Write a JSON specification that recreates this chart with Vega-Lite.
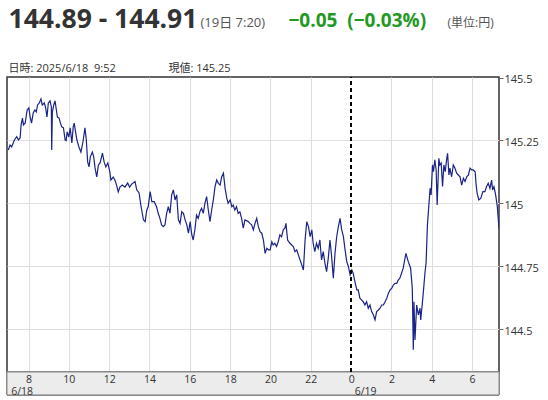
{
  "$schema": "https://vega.github.io/schema/vega-lite/v6.json",
  "width": 492,
  "height": 295,
  "autosize": "none",
  "padding": {"left": 7, "top": 77, "right": 49, "bottom": 28},
  "background": "white",
  "config": {
    "font": "Open Sans, Noto Sans CJK JP",
    "view": {"stroke": "#333333", "strokeWidth": 1.5}
  },
  "datasets": {
    "usdjpy": [
      {"t": "2025-06-18T07:00", "v": 145.212},
      {"t": "2025-06-18T07:05", "v": 145.232},
      {"t": "2025-06-18T07:10", "v": 145.225},
      {"t": "2025-06-18T07:18", "v": 145.252},
      {"t": "2025-06-18T07:25", "v": 145.265},
      {"t": "2025-06-18T07:30", "v": 145.252},
      {"t": "2025-06-18T07:35", "v": 145.260},
      {"t": "2025-06-18T07:38", "v": 145.312},
      {"t": "2025-06-18T07:42", "v": 145.339},
      {"t": "2025-06-18T07:45", "v": 145.312},
      {"t": "2025-06-18T07:50", "v": 145.319},
      {"t": "2025-06-18T07:56", "v": 145.371},
      {"t": "2025-06-18T08:01", "v": 145.379},
      {"t": "2025-06-18T08:05", "v": 145.343},
      {"t": "2025-06-18T08:09", "v": 145.319},
      {"t": "2025-06-18T08:14", "v": 145.359},
      {"t": "2025-06-18T08:19", "v": 145.371},
      {"t": "2025-06-18T08:23", "v": 145.363},
      {"t": "2025-06-18T08:27", "v": 145.391},
      {"t": "2025-06-18T08:32", "v": 145.399},
      {"t": "2025-06-18T08:37", "v": 145.415},
      {"t": "2025-06-18T08:41", "v": 145.391},
      {"t": "2025-06-18T08:47", "v": 145.399},
      {"t": "2025-06-18T08:51", "v": 145.379},
      {"t": "2025-06-18T08:55", "v": 145.343},
      {"t": "2025-06-18T08:59", "v": 145.399},
      {"t": "2025-06-18T09:04", "v": 145.407},
      {"t": "2025-06-18T09:08", "v": 145.383},
      {"t": "2025-06-18T09:09", "v": 145.212},
      {"t": "2025-06-18T09:11", "v": 145.363},
      {"t": "2025-06-18T09:15", "v": 145.391},
      {"t": "2025-06-18T09:19", "v": 145.407},
      {"t": "2025-06-18T09:22", "v": 145.379},
      {"t": "2025-06-18T09:26", "v": 145.343},
      {"t": "2025-06-18T09:31", "v": 145.339},
      {"t": "2025-06-18T09:35", "v": 145.319},
      {"t": "2025-06-18T09:39", "v": 145.304},
      {"t": "2025-06-18T09:44", "v": 145.300},
      {"t": "2025-06-18T09:49", "v": 145.252},
      {"t": "2025-06-18T09:52", "v": 145.250},
      {"t": "2025-06-18T09:55", "v": 145.284},
      {"t": "2025-06-18T10:00", "v": 145.264},
      {"t": "2025-06-18T10:04", "v": 145.300},
      {"t": "2025-06-18T10:09", "v": 145.240},
      {"t": "2025-06-18T10:13", "v": 145.304},
      {"t": "2025-06-18T10:16", "v": 145.319},
      {"t": "2025-06-18T10:20", "v": 145.284},
      {"t": "2025-06-18T10:24", "v": 145.252},
      {"t": "2025-06-18T10:30", "v": 145.224},
      {"t": "2025-06-18T10:36", "v": 145.204},
      {"t": "2025-06-18T10:42", "v": 145.244},
      {"t": "2025-06-18T10:48", "v": 145.300},
      {"t": "2025-06-18T10:52", "v": 145.252},
      {"t": "2025-06-18T10:56", "v": 145.165},
      {"t": "2025-06-18T11:00", "v": 145.145},
      {"t": "2025-06-18T11:04", "v": 145.185},
      {"t": "2025-06-18T11:10", "v": 145.204},
      {"t": "2025-06-18T11:14", "v": 145.185},
      {"t": "2025-06-18T11:18", "v": 145.141},
      {"t": "2025-06-18T11:23", "v": 145.105},
      {"t": "2025-06-18T11:28", "v": 145.153},
      {"t": "2025-06-18T11:33", "v": 145.161},
      {"t": "2025-06-18T11:40", "v": 145.200},
      {"t": "2025-06-18T11:45", "v": 145.165},
      {"t": "2025-06-18T11:50", "v": 145.145},
      {"t": "2025-06-18T11:56", "v": 145.161},
      {"t": "2025-06-18T12:02", "v": 145.125},
      {"t": "2025-06-18T12:05", "v": 145.093},
      {"t": "2025-06-18T12:12", "v": 145.105},
      {"t": "2025-06-18T12:17", "v": 145.093},
      {"t": "2025-06-18T12:22", "v": 145.073},
      {"t": "2025-06-18T12:27", "v": 145.046},
      {"t": "2025-06-18T12:32", "v": 145.065},
      {"t": "2025-06-18T12:39", "v": 145.073},
      {"t": "2025-06-18T12:47", "v": 145.065},
      {"t": "2025-06-18T12:55", "v": 145.081},
      {"t": "2025-06-18T13:01", "v": 145.065},
      {"t": "2025-06-18T13:07", "v": 145.077},
      {"t": "2025-06-18T13:17", "v": 145.087},
      {"t": "2025-06-18T13:22", "v": 145.054},
      {"t": "2025-06-18T13:29", "v": 145.042},
      {"t": "2025-06-18T13:35", "v": 144.987},
      {"t": "2025-06-18T13:42", "v": 144.935},
      {"t": "2025-06-18T13:47", "v": 144.928},
      {"t": "2025-06-18T13:52", "v": 144.974},
      {"t": "2025-06-18T13:56", "v": 144.987},
      {"t": "2025-06-18T14:02", "v": 145.047},
      {"t": "2025-06-18T14:07", "v": 145.007},
      {"t": "2025-06-18T14:14", "v": 145.007},
      {"t": "2025-06-18T14:21", "v": 144.987},
      {"t": "2025-06-18T14:26", "v": 144.961},
      {"t": "2025-06-18T14:31", "v": 144.941},
      {"t": "2025-06-18T14:36", "v": 144.915},
      {"t": "2025-06-18T14:41", "v": 144.908},
      {"t": "2025-06-18T14:46", "v": 144.915},
      {"t": "2025-06-18T14:51", "v": 144.961},
      {"t": "2025-06-18T14:56", "v": 144.987},
      {"t": "2025-06-18T15:01", "v": 144.961},
      {"t": "2025-06-18T15:06", "v": 145.034},
      {"t": "2025-06-18T15:11", "v": 145.054},
      {"t": "2025-06-18T15:16", "v": 145.014},
      {"t": "2025-06-18T15:21", "v": 145.034},
      {"t": "2025-06-18T15:26", "v": 144.935},
      {"t": "2025-06-18T15:31", "v": 144.921},
      {"t": "2025-06-18T15:36", "v": 144.967},
      {"t": "2025-06-18T15:41", "v": 144.961},
      {"t": "2025-06-18T15:46", "v": 144.935},
      {"t": "2025-06-18T15:51", "v": 144.915},
      {"t": "2025-06-18T15:56", "v": 144.882},
      {"t": "2025-06-18T16:01", "v": 144.928},
      {"t": "2025-06-18T16:06", "v": 144.875},
      {"t": "2025-06-18T16:10", "v": 144.855},
      {"t": "2025-06-18T16:15", "v": 144.895},
      {"t": "2025-06-18T16:20", "v": 144.954},
      {"t": "2025-06-18T16:25", "v": 144.941},
      {"t": "2025-06-18T16:30", "v": 144.967},
      {"t": "2025-06-18T16:35", "v": 144.981},
      {"t": "2025-06-18T16:40", "v": 144.961},
      {"t": "2025-06-18T16:45", "v": 145.001},
      {"t": "2025-06-18T16:50", "v": 145.027},
      {"t": "2025-06-18T16:55", "v": 144.974},
      {"t": "2025-06-18T17:00", "v": 144.928},
      {"t": "2025-06-18T17:05", "v": 144.974},
      {"t": "2025-06-18T17:10", "v": 145.014},
      {"t": "2025-06-18T17:15", "v": 145.067},
      {"t": "2025-06-18T17:20", "v": 145.093},
      {"t": "2025-06-18T17:25", "v": 145.080},
      {"t": "2025-06-18T17:30", "v": 145.073},
      {"t": "2025-06-18T17:35", "v": 145.106},
      {"t": "2025-06-18T17:40", "v": 145.120},
      {"t": "2025-06-18T17:45", "v": 145.060},
      {"t": "2025-06-18T17:50", "v": 145.021},
      {"t": "2025-06-18T17:54", "v": 145.001},
      {"t": "2025-06-18T18:00", "v": 145.014},
      {"t": "2025-06-18T18:05", "v": 144.987},
      {"t": "2025-06-18T18:09", "v": 144.994},
      {"t": "2025-06-18T18:14", "v": 144.974},
      {"t": "2025-06-18T18:19", "v": 144.987},
      {"t": "2025-06-18T18:24", "v": 144.961},
      {"t": "2025-06-18T18:29", "v": 144.967},
      {"t": "2025-06-18T18:34", "v": 144.941},
      {"t": "2025-06-18T18:39", "v": 144.902},
      {"t": "2025-06-18T18:44", "v": 144.935},
      {"t": "2025-06-18T18:54", "v": 144.928},
      {"t": "2025-06-18T18:59", "v": 144.921},
      {"t": "2025-06-18T19:04", "v": 144.915},
      {"t": "2025-06-18T19:09", "v": 144.895},
      {"t": "2025-06-18T19:14", "v": 144.921},
      {"t": "2025-06-18T19:19", "v": 144.941},
      {"t": "2025-06-18T19:24", "v": 144.908},
      {"t": "2025-06-18T19:29", "v": 144.888},
      {"t": "2025-06-18T19:34", "v": 144.882},
      {"t": "2025-06-18T19:39", "v": 144.855},
      {"t": "2025-06-18T19:44", "v": 144.802},
      {"t": "2025-06-18T19:49", "v": 144.822},
      {"t": "2025-06-18T19:54", "v": 144.816},
      {"t": "2025-06-18T19:59", "v": 144.816},
      {"t": "2025-06-18T20:04", "v": 144.848},
      {"t": "2025-06-18T20:08", "v": 144.835},
      {"t": "2025-06-18T20:13", "v": 144.842},
      {"t": "2025-06-18T20:18", "v": 144.829},
      {"t": "2025-06-18T20:23", "v": 144.848},
      {"t": "2025-06-18T20:28", "v": 144.875},
      {"t": "2025-06-18T20:33", "v": 144.868},
      {"t": "2025-06-18T20:38", "v": 144.895},
      {"t": "2025-06-18T20:43", "v": 144.902},
      {"t": "2025-06-18T20:46", "v": 144.921},
      {"t": "2025-06-18T20:51", "v": 144.855},
      {"t": "2025-06-18T20:58", "v": 144.842},
      {"t": "2025-06-18T21:03", "v": 144.835},
      {"t": "2025-06-18T21:08", "v": 144.829},
      {"t": "2025-06-18T21:13", "v": 144.809},
      {"t": "2025-06-18T21:18", "v": 144.816},
      {"t": "2025-06-18T21:23", "v": 144.796},
      {"t": "2025-06-18T21:28", "v": 144.776},
      {"t": "2025-06-18T21:33", "v": 144.756},
      {"t": "2025-06-18T21:38", "v": 144.736},
      {"t": "2025-06-18T21:43", "v": 144.855},
      {"t": "2025-06-18T21:48", "v": 144.928},
      {"t": "2025-06-18T21:53", "v": 144.908},
      {"t": "2025-06-18T21:58", "v": 144.868},
      {"t": "2025-06-18T22:03", "v": 144.895},
      {"t": "2025-06-18T22:07", "v": 144.842},
      {"t": "2025-06-18T22:12", "v": 144.809},
      {"t": "2025-06-18T22:17", "v": 144.842},
      {"t": "2025-06-18T22:22", "v": 144.822},
      {"t": "2025-06-18T22:27", "v": 144.855},
      {"t": "2025-06-18T22:32", "v": 144.776},
      {"t": "2025-06-18T22:37", "v": 144.809},
      {"t": "2025-06-18T22:42", "v": 144.763},
      {"t": "2025-06-18T22:47", "v": 144.729},
      {"t": "2025-06-18T22:52", "v": 144.783},
      {"t": "2025-06-18T22:57", "v": 144.855},
      {"t": "2025-06-18T23:02", "v": 144.789},
      {"t": "2025-06-18T23:07", "v": 144.703},
      {"t": "2025-06-18T23:12", "v": 144.802},
      {"t": "2025-06-18T23:17", "v": 144.868},
      {"t": "2025-06-18T23:22", "v": 144.908},
      {"t": "2025-06-18T23:27", "v": 144.941},
      {"t": "2025-06-18T23:32", "v": 144.895},
      {"t": "2025-06-18T23:37", "v": 144.868},
      {"t": "2025-06-18T23:42", "v": 144.816},
      {"t": "2025-06-18T23:47", "v": 144.769},
      {"t": "2025-06-18T23:52", "v": 144.749},
      {"t": "2025-06-18T23:57", "v": 144.716},
      {"t": "2025-06-19T00:02", "v": 144.736},
      {"t": "2025-06-19T00:06", "v": 144.723},
      {"t": "2025-06-19T00:12", "v": 144.685},
      {"t": "2025-06-19T00:17", "v": 144.657},
      {"t": "2025-06-19T00:21", "v": 144.657},
      {"t": "2025-06-19T00:26", "v": 144.624},
      {"t": "2025-06-19T00:31", "v": 144.617},
      {"t": "2025-06-19T00:36", "v": 144.610},
      {"t": "2025-06-19T00:41", "v": 144.597},
      {"t": "2025-06-19T00:46", "v": 144.610},
      {"t": "2025-06-19T00:51", "v": 144.584},
      {"t": "2025-06-19T00:56", "v": 144.597},
      {"t": "2025-06-19T01:01", "v": 144.571},
      {"t": "2025-06-19T01:06", "v": 144.558},
      {"t": "2025-06-19T01:11", "v": 144.538},
      {"t": "2025-06-19T01:16", "v": 144.571},
      {"t": "2025-06-19T01:21", "v": 144.577},
      {"t": "2025-06-19T01:26", "v": 144.584},
      {"t": "2025-06-19T01:31", "v": 144.597},
      {"t": "2025-06-19T01:36", "v": 144.597},
      {"t": "2025-06-19T01:41", "v": 144.610},
      {"t": "2025-06-19T01:46", "v": 144.624},
      {"t": "2025-06-19T01:51", "v": 144.644},
      {"t": "2025-06-19T01:56", "v": 144.657},
      {"t": "2025-06-19T02:01", "v": 144.664},
      {"t": "2025-06-19T02:06", "v": 144.677},
      {"t": "2025-06-19T02:11", "v": 144.683},
      {"t": "2025-06-19T02:16", "v": 144.683},
      {"t": "2025-06-19T02:20", "v": 144.696},
      {"t": "2025-06-19T02:25", "v": 144.703},
      {"t": "2025-06-19T02:35", "v": 144.743},
      {"t": "2025-06-19T02:43", "v": 144.802},
      {"t": "2025-06-19T02:50", "v": 144.769},
      {"t": "2025-06-19T02:57", "v": 144.743},
      {"t": "2025-06-19T03:02", "v": 144.664},
      {"t": "2025-06-19T03:05", "v": 144.419},
      {"t": "2025-06-19T03:07", "v": 144.610},
      {"t": "2025-06-19T03:10", "v": 144.458},
      {"t": "2025-06-19T03:15", "v": 144.597},
      {"t": "2025-06-19T03:20", "v": 144.558},
      {"t": "2025-06-19T03:25", "v": 144.584},
      {"t": "2025-06-19T03:27", "v": 144.538},
      {"t": "2025-06-19T03:31", "v": 144.591},
      {"t": "2025-06-19T03:35", "v": 144.650},
      {"t": "2025-06-19T03:40", "v": 144.729},
      {"t": "2025-06-19T03:43", "v": 144.763},
      {"t": "2025-06-19T03:47", "v": 144.915},
      {"t": "2025-06-19T03:51", "v": 144.987},
      {"t": "2025-06-19T03:55", "v": 145.060},
      {"t": "2025-06-19T03:58", "v": 145.034},
      {"t": "2025-06-19T04:02", "v": 145.153},
      {"t": "2025-06-19T04:05", "v": 145.126},
      {"t": "2025-06-19T04:09", "v": 145.173},
      {"t": "2025-06-19T04:13", "v": 145.133},
      {"t": "2025-06-19T04:16", "v": 144.994},
      {"t": "2025-06-19T04:21", "v": 145.179},
      {"t": "2025-06-19T04:24", "v": 145.153},
      {"t": "2025-06-19T04:28", "v": 145.160},
      {"t": "2025-06-19T04:32", "v": 145.067},
      {"t": "2025-06-19T04:36", "v": 145.153},
      {"t": "2025-06-19T04:40", "v": 145.126},
      {"t": "2025-06-19T04:44", "v": 145.173},
      {"t": "2025-06-19T04:47", "v": 145.199},
      {"t": "2025-06-19T04:51", "v": 145.113},
      {"t": "2025-06-19T04:54", "v": 145.140},
      {"t": "2025-06-19T04:59", "v": 145.106},
      {"t": "2025-06-19T05:04", "v": 145.153},
      {"t": "2025-06-19T05:09", "v": 145.140},
      {"t": "2025-06-19T05:14", "v": 145.120},
      {"t": "2025-06-19T05:19", "v": 145.113},
      {"t": "2025-06-19T05:24", "v": 145.106},
      {"t": "2025-06-19T05:29", "v": 145.073},
      {"t": "2025-06-19T05:34", "v": 145.100},
      {"t": "2025-06-19T05:39", "v": 145.087},
      {"t": "2025-06-19T05:44", "v": 145.106},
      {"t": "2025-06-19T05:49", "v": 145.113},
      {"t": "2025-06-19T05:54", "v": 145.140},
      {"t": "2025-06-19T05:59", "v": 145.133},
      {"t": "2025-06-19T06:03", "v": 145.133},
      {"t": "2025-06-19T06:09", "v": 145.126},
      {"t": "2025-06-19T06:12", "v": 145.073},
      {"t": "2025-06-19T06:15", "v": 145.040},
      {"t": "2025-06-19T06:20", "v": 145.014},
      {"t": "2025-06-19T06:26", "v": 145.021},
      {"t": "2025-06-19T06:32", "v": 145.047},
      {"t": "2025-06-19T06:38", "v": 145.047},
      {"t": "2025-06-19T06:43", "v": 145.067},
      {"t": "2025-06-19T06:48", "v": 145.080},
      {"t": "2025-06-19T06:53", "v": 145.060},
      {"t": "2025-06-19T06:58", "v": 145.093},
      {"t": "2025-06-19T07:01", "v": 145.054},
      {"t": "2025-06-19T07:05", "v": 145.067},
      {"t": "2025-06-19T07:10", "v": 145.034},
      {"t": "2025-06-19T07:15", "v": 144.987},
      {"t": "2025-06-19T07:20", "v": 144.900}
    ]
  },
  "data": {"name": "usdjpy"},
  "layer": [
    {
      "mark": {"type": "rect", "fill": "#ececec", "stroke": "#8a8a8a", "strokeWidth": 1, "clip": false},
      "encoding": {
        "x": {
          "datum": {"year": 2025, "month": 6, "date": 18, "hours": 6, "minutes": 56},
          "type": "temporal",
          "scale": {"domain": [{"year": 2025, "month": 6, "date": 18, "hours": 6, "minutes": 56}, {"year": 2025, "month": 6, "date": 19, "hours": 7, "minutes": 20}]},
          "axis": {
            "orient": "bottom",
            "values": [
              {"year": 2025, "month": 6, "date": 18, "hours": 8},
              {"year": 2025, "month": 6, "date": 18, "hours": 10},
              {"year": 2025, "month": 6, "date": 18, "hours": 12},
              {"year": 2025, "month": 6, "date": 18, "hours": 14},
              {"year": 2025, "month": 6, "date": 18, "hours": 16},
              {"year": 2025, "month": 6, "date": 18, "hours": 18},
              {"year": 2025, "month": 6, "date": 18, "hours": 20},
              {"year": 2025, "month": 6, "date": 18, "hours": 22},
              {"year": 2025, "month": 6, "date": 19, "hours": 0},
              {"year": 2025, "month": 6, "date": 19, "hours": 2},
              {"year": 2025, "month": 6, "date": 19, "hours": 4},
              {"year": 2025, "month": 6, "date": 19, "hours": 6}
            ],
            "labelExpr": "timeFormat(datum.value, '%-H')",
            "grid": false,
            "ticks": false,
            "domain": false,
            "labelPadding": 2,
            "labelFontSize": 10.5,
            "labelColor": "#333333",
            "labelFlush": false,
            "labelOverlap": false,
            "zindex": 1,
            "title": "(19日 7:20)",
            "titleX": 193,
            "titleY": -346,
            "titleAngle": 0,
            "titleAlign": "left",
            "titleBaseline": "alphabetic",
            "titleFontSize": 13,
            "titleFontWeight": "normal",
            "titleColor": "#555555"
          }
        },
        "x2": {"datum": {"year": 2025, "month": 6, "date": 19, "hours": 7, "minutes": 20}},
        "y": {
          "datum": 144.331,
          "type": "quantitative",
          "scale": {"domain": [144.331, 145.502]},
          "axis": {
            "orient": "right",
            "values": [144.5, 144.75, 145, 145.25, 145.5],
            "labelExpr": "datum.value + ''",
            "grid": false,
            "domain": false,
            "ticks": true,
            "tickSize": 4,
            "tickColor": "#666666",
            "labelPadding": 1,
            "labelOffset": 2,
            "labelFlush": false,
            "labelFontSize": 11,
            "labelColor": "#333333",
            "zindex": 1,
            "title": "(単位:円)",
            "titleX": -52,
            "titleY": -51,
            "titleAngle": 0,
            "titleAlign": "left",
            "titleBaseline": "alphabetic",
            "titleFontSize": 12,
            "titleFontWeight": "normal",
            "titleColor": "#555555"
          }
        },
        "y2": {"datum": 144.24}
      }
    },
    {
      "mark": {"type": "line", "color": "#1a2388", "strokeWidth": 1.2, "clip": true},
      "encoding": {
        "x": {
          "field": "t",
          "type": "temporal",
          "scale": {"domain": [{"year": 2025, "month": 6, "date": 18, "hours": 6, "minutes": 56}, {"year": 2025, "month": 6, "date": 19, "hours": 7, "minutes": 20}]},
          "axis": {
            "orient": "bottom",
            "values": [
              {"year": 2025, "month": 6, "date": 18, "hours": 8},
              {"year": 2025, "month": 6, "date": 18, "hours": 10},
              {"year": 2025, "month": 6, "date": 18, "hours": 12},
              {"year": 2025, "month": 6, "date": 18, "hours": 14},
              {"year": 2025, "month": 6, "date": 18, "hours": 16},
              {"year": 2025, "month": 6, "date": 18, "hours": 18},
              {"year": 2025, "month": 6, "date": 18, "hours": 20},
              {"year": 2025, "month": 6, "date": 18, "hours": 22},
              {"year": 2025, "month": 6, "date": 19, "hours": 2},
              {"year": 2025, "month": 6, "date": 19, "hours": 4},
              {"year": 2025, "month": 6, "date": 19, "hours": 6}
            ],
            "grid": true,
            "gridColor": "#dedede",
            "gridWidth": 1,
            "labels": false,
            "ticks": false,
            "domain": false,
            "zindex": 0,
            "title": "144.89 - 144.91",
            "titleX": 1,
            "titleY": -345,
            "titleAngle": 0,
            "titleAlign": "left",
            "titleBaseline": "alphabetic",
            "titleFont": "Open Sans",
            "titleFontSize": 26.5,
            "titleFontWeight": "bold",
            "titleColor": "#333333"
          }
        },
        "y": {
          "field": "v",
          "type": "quantitative",
          "scale": {"domain": [144.331, 145.502]},
          "axis": {
            "orient": "left",
            "values": [144.5, 144.75, 145, 145.25],
            "grid": true,
            "gridColor": "#dedede",
            "gridWidth": 1,
            "labels": false,
            "ticks": false,
            "domain": false,
            "zindex": 0,
            "title": "日時: 2025/6/18\u00a0\u00a09:52",
            "titleX": 1,
            "titleY": -6,
            "titleAngle": 0,
            "titleAlign": "left",
            "titleBaseline": "alphabetic",
            "titleFontSize": 11,
            "titleFontWeight": "normal",
            "titleColor": "#333333"
          }
        }
      }
    },
    {
      "mark": {"type": "rule", "color": "#000000", "strokeDash": [4, 3], "strokeWidth": 1.5},
      "encoding": {
        "x": {
          "datum": {"year": 2025, "month": 6, "date": 19, "hours": 0},
          "type": "temporal",
          "scale": {"domain": [{"year": 2025, "month": 6, "date": 18, "hours": 6, "minutes": 56}, {"year": 2025, "month": 6, "date": 19, "hours": 7, "minutes": 20}]},
          "axis": {
            "orient": "bottom",
            "values": [
              {"year": 2025, "month": 6, "date": 18, "hours": 6, "minutes": 58},
              {"year": 2025, "month": 6, "date": 19, "hours": 0}
            ],
            "labelExpr": "timeFormat(datum.value, '%-m/%-d')",
            "labelAlign": "left",
            "labelOffset": 3,
            "labelPadding": 14,
            "labelFontSize": 10.5,
            "labelColor": "#333333",
            "labelFlush": false,
            "labelOverlap": false,
            "grid": false,
            "ticks": false,
            "domain": false,
            "zindex": 1,
            "title": "−0.05\u00a0\u00a0(−0.03%)",
            "titleX": 281,
            "titleY": -346,
            "titleAngle": 0,
            "titleAlign": "left",
            "titleBaseline": "alphabetic",
            "titleFont": "Open Sans",
            "titleFontSize": 19,
            "titleFontWeight": "bold",
            "titleColor": "#229922"
          }
        },
        "y": {
          "datum": 144.331,
          "type": "quantitative",
          "scale": {"domain": [144.331, 145.502]},
          "axis": {
            "orient": "left",
            "labels": false,
            "ticks": false,
            "domain": false,
            "grid": false,
            "title": "現値: 145.25",
            "titleX": 161,
            "titleY": -6,
            "titleAngle": 0,
            "titleAlign": "left",
            "titleBaseline": "alphabetic",
            "titleFontSize": 11,
            "titleFontWeight": "normal",
            "titleColor": "#333333"
          }
        },
        "y2": {"datum": 145.502}
      }
    }
  ],
  "resolve": {
    "scale": {"x": "independent", "y": "independent"},
    "axis": {"x": "independent", "y": "independent"}
  }
}
